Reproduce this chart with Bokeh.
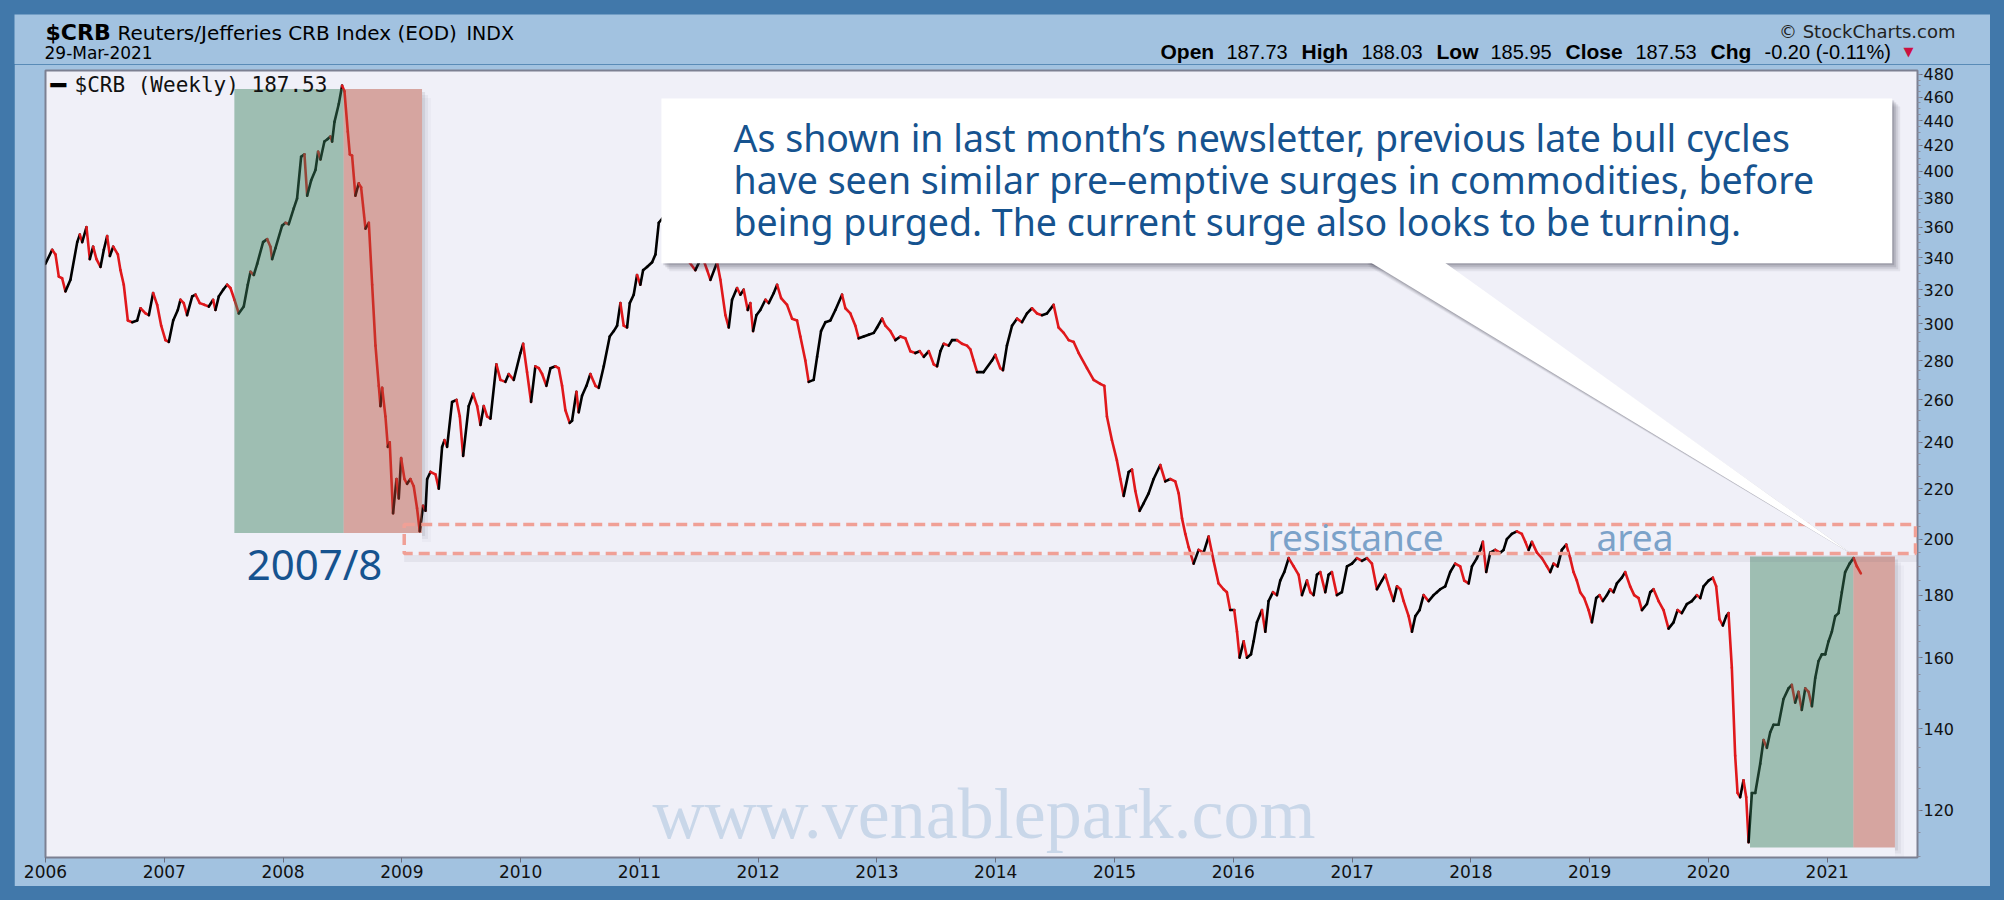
import math
from bokeh.plotting import figure
from bokeh.layouts import column
from bokeh.models import (Range1d, FixedTicker, NumeralTickFormatter, Label,
                          ColumnDataSource, GlobalInlineStyleSheet)
from bokeh.embed import file_html
from bokeh.resources import INLINE

# ---------------- data ----------------
dates = [
    2006.000, 2006.056, 2006.084, 2006.112, 2006.140, 2006.168, 2006.210, 2006.267, 2006.289, 2006.309,
    2006.345, 2006.373, 2006.401, 2006.429, 2006.463, 2006.491, 2006.519, 2006.542, 2006.570, 2006.609,
    2006.631, 2006.659, 2006.693, 2006.730, 2006.772, 2006.800, 2006.842, 2006.870, 2006.906, 2006.940,
    2006.974, 2007.010, 2007.038, 2007.075, 2007.114, 2007.136, 2007.164, 2007.192, 2007.235, 2007.263,
    2007.299, 2007.338, 2007.375, 2007.411, 2007.431, 2007.459, 2007.496, 2007.529, 2007.557, 2007.591,
    2007.627, 2007.669, 2007.703, 2007.726, 2007.754, 2007.782, 2007.832, 2007.866, 2007.894, 2007.908,
    2007.936, 2007.992, 2008.020, 2008.048, 2008.090, 2008.118, 2008.152, 2008.180, 2008.203, 2008.236,
    2008.273, 2008.295, 2008.315, 2008.348, 2008.376, 2008.399, 2008.413, 2008.433, 2008.469, 2008.497,
    2008.517, 2008.545, 2008.562, 2008.581, 2008.609, 2008.637, 2008.657, 2008.694, 2008.722, 2008.750,
    2008.778, 2008.806, 2008.820, 2008.834, 2008.862, 2008.882, 2008.898, 2008.926, 2008.955, 2008.974,
    2008.994, 2009.022, 2009.044, 2009.072, 2009.100, 2009.128, 2009.151, 2009.179, 2009.199, 2009.213,
    2009.241, 2009.283, 2009.311, 2009.339, 2009.359, 2009.381, 2009.423, 2009.460, 2009.488, 2009.516,
    2009.563, 2009.600, 2009.634, 2009.662, 2009.690, 2009.718, 2009.746, 2009.796, 2009.830, 2009.872,
    2009.900, 2009.942, 2009.998,
    2010.021, 2010.054, 2010.088, 2010.124, 2010.153, 2010.181, 2010.217, 2010.251, 2010.293, 2010.321,
    2010.349, 2010.377, 2010.413, 2010.433, 2010.470, 2010.489, 2010.517, 2010.554, 2010.587, 2010.630,
    2010.658, 2010.700, 2010.750, 2010.784, 2010.812, 2010.840, 2010.868, 2010.896, 2010.919, 2010.952,
    2010.980, 2011.008, 2011.031, 2011.064, 2011.107, 2011.135, 2011.163, 2011.233, 2011.317, 2011.401,
    2011.471, 2011.528, 2011.570, 2011.598, 2011.654, 2011.682, 2011.724, 2011.752, 2011.780, 2011.822,
    2011.850, 2011.878, 2011.912, 2011.934, 2011.957, 2011.985, 2012.018, 2012.061, 2012.089, 2012.131,
    2012.159, 2012.193, 2012.243, 2012.285, 2012.327, 2012.355, 2012.397, 2012.425, 2012.467, 2012.496,
    2012.529, 2012.566, 2012.608, 2012.650, 2012.706, 2012.734, 2012.776, 2012.818, 2012.846, 2012.888,
    2012.930, 2012.973, 2013.001, 2013.043, 2013.071, 2013.113, 2013.155, 2013.197, 2013.239, 2013.281,
    2013.323, 2013.360, 2013.394, 2013.436, 2013.478, 2013.506, 2013.534, 2013.562, 2013.604, 2013.632,
    2013.674, 2013.716, 2013.758, 2013.786, 2013.814, 2013.843, 2013.898,
    2013.968, 2013.996, 2014.038, 2014.061, 2014.094, 2014.137, 2014.179, 2014.221, 2014.263, 2014.305,
    2014.347, 2014.389, 2014.431, 2014.487, 2014.529, 2014.572, 2014.614, 2014.656, 2014.698, 2014.768,
    2014.824, 2014.880, 2014.914, 2014.936, 2014.978, 2015.020, 2015.049, 2015.077, 2015.119, 2015.147,
    2015.175, 2015.211, 2015.245, 2015.287, 2015.329, 2015.385, 2015.427, 2015.469, 2015.511, 2015.540,
    2015.568, 2015.596, 2015.624, 2015.666, 2015.708, 2015.750, 2015.792, 2015.834, 2015.876, 2015.918,
    2015.946, 2015.974, 2016.008, 2016.031, 2016.053, 2016.087, 2016.115, 2016.149, 2016.171, 2016.199,
    2016.241, 2016.269, 2016.297, 2016.334, 2016.367, 2016.395, 2016.429, 2016.466, 2016.508, 2016.550,
    2016.578, 2016.620, 2016.648, 2016.676, 2016.704, 2016.732, 2016.774, 2016.802, 2016.830, 2016.872,
    2016.914, 2016.957, 2016.999, 2017.041, 2017.083, 2017.125, 2017.167, 2017.209, 2017.251, 2017.279,
    2017.316, 2017.349, 2017.378, 2017.406, 2017.434, 2017.476, 2017.504, 2017.532, 2017.568, 2017.602,
    2017.644, 2017.686, 2017.714, 2017.742,
    2017.784, 2017.826, 2017.868, 2017.910, 2017.944, 2017.981, 2018.009, 2018.051, 2018.079, 2018.101,
    2018.129, 2018.163, 2018.205, 2018.247, 2018.275, 2018.303, 2018.345, 2018.387, 2018.429, 2018.458,
    2018.486, 2018.514, 2018.556, 2018.598, 2018.640, 2018.668, 2018.696, 2018.730, 2018.766, 2018.803,
    2018.836, 2018.864, 2018.892, 2018.920, 2018.954, 2018.991, 2019.019, 2019.055, 2019.083, 2019.111,
    2019.145, 2019.173, 2019.201, 2019.229, 2019.271, 2019.299, 2019.341, 2019.375, 2019.412, 2019.440,
    2019.482, 2019.510, 2019.538, 2019.580, 2019.622, 2019.664, 2019.706, 2019.740, 2019.776, 2019.818,
    2019.860, 2019.903, 2019.931, 2019.959, 2020.001, 2020.037, 2020.065, 2020.093, 2020.121, 2020.150,
    2020.169, 2020.197, 2020.225, 2020.245, 2020.267, 2020.295, 2020.318, 2020.338, 2020.366, 2020.394,
    2020.436, 2020.464, 2020.492, 2020.520, 2020.548, 2020.590, 2020.632, 2020.674, 2020.702, 2020.730,
    2020.758, 2020.786, 2020.815, 2020.843, 2020.871, 2020.899, 2020.927, 2020.955, 2020.983, 2021.011,
    2021.039, 2021.067, 2021.095, 2021.123, 2021.151, 2021.188, 2021.222, 2021.250, 2021.283,
]
values = [
    336, 345, 342, 328, 327, 319, 326, 350, 355, 350,
    360, 339, 347, 339, 334, 345, 354, 341, 347, 342,
    332, 323, 302, 301, 302, 309, 306, 305, 318, 311,
    299, 291, 290, 302, 308, 314, 312, 305, 316, 317,
    312, 311, 310, 314, 308, 316, 320, 323, 321, 314,
    306, 310, 323, 331, 329, 336, 350, 352, 347, 339,
    346, 361, 363, 362, 373, 380, 411, 413, 382, 393,
    401, 415, 409, 423, 425, 427, 423, 439, 454, 470,
    465, 431, 413, 412, 382, 391, 388, 359, 363, 323,
    288, 267, 257, 266, 252, 238, 240, 210, 224, 216,
    233, 224, 222, 224, 221, 212, 203, 213, 211, 224,
    227, 226, 220, 238, 241, 238, 259, 260, 252, 234,
    257, 263, 257, 248, 257, 252, 251, 278, 270, 269,
    273, 270, 284,
    289, 274, 259, 277, 276, 273, 267, 276, 277, 276,
    267, 255, 249, 250, 264, 254, 262, 267, 273, 267,
    266, 277, 293, 296, 299, 312, 299, 298, 312, 317,
    329, 323, 332, 334, 337, 342, 363, 370, 355, 339,
    332, 341, 332, 326, 337, 326, 305, 298, 314, 321,
    317, 320, 308, 312, 296, 305, 308, 314, 312, 318,
    323, 315, 311, 303, 302, 293, 280, 269, 270, 282,
    296, 301, 302, 308, 317, 309, 306, 299, 292, 293,
    294, 295, 298, 303, 299, 296, 291, 293, 292, 285,
    284, 285, 282, 285, 278, 277, 285, 289, 288, 291,
    291, 289, 288, 286, 280, 274, 274,
    280, 283, 276, 275, 288, 299, 303, 301, 306, 309,
    306, 305, 306, 311, 298, 295, 291, 290, 284, 276,
    270, 268, 267, 252, 241, 232, 224, 217, 227, 228,
    219, 211, 214, 218, 224, 230, 223, 224, 223, 218,
    208, 202, 197, 191, 196, 195, 201, 192, 184, 182,
    181, 175, 175, 168, 160, 165, 160, 161, 165, 171,
    175, 168, 178, 181, 180, 185, 188, 193, 190, 187,
    180, 185, 181, 180, 187, 188, 181, 187, 188, 180,
    181, 190, 191, 193, 192, 193, 191, 182, 185, 187,
    182, 178, 183, 182, 178, 173, 168, 173, 175, 180,
    178, 180, 181, 182,
    183, 188, 191, 190, 185, 184, 190, 193, 196, 199,
    188, 195, 196, 195, 196, 200, 202, 203, 202, 199,
    196, 199, 195, 193, 190, 188, 191, 190, 196, 198,
    193, 188, 185, 181, 179, 175, 171, 179, 180, 178,
    180, 182, 181, 184, 186, 188, 183, 180, 179, 175,
    177, 181, 182, 178, 175, 169, 171, 175, 174, 177,
    178, 180, 179, 183, 185, 186, 183, 172, 170, 173,
    174, 157, 133, 124, 123, 127, 123, 113, 124, 124,
    131, 137, 135, 139, 141, 141, 148, 151, 152, 147,
    150, 145, 151, 150, 146, 154, 159, 161, 161, 165,
    168, 173, 174, 181, 188, 191, 193, 190, 187.53,
]

year_ticks = list(range(2006, 2022))
price_ticks = [120, 140, 160, 180, 200, 220, 240, 260, 280, 300,
               320, 340, 360, 380, 400, 420, 440, 460, 480]
price_minor_ticks = list(range(110, 485, 5))

symbol = "$CRB"
index_name = "Reuters/Jefferies CRB Index (EOD)"
exchange = "INDX"
as_of = "29-Mar-2021"
copyright_text = "\u00a9 StockCharts.com"
stat_names = ["Open", "High", "Low", "Close", "Chg"]
stat_values = ["187.73", "188.03", "185.95", "187.53", "-0.20 (-0.11%)"]
series_name = "$CRB (Weekly)"

# highlighted late-cycle surges (green) and purges (red)
cycle_start = [2007.59, 2020.35]
cycle_turn = [2008.51, 2021.22]
cycle_end = [2009.17, 2021.57]
cycle_low = [202.3, 111.9]
cycle_high = [467.0, 193.6]

resistance_start = 2009.02
resistance_low = 194.7
resistance_high = 205.6

callout_lines = [
    "As shown in last month\u2019s newsletter, previous late bull cycles",
    "have seen similar pre\u2013emptive surges in commodities, before",
    "being purged. The current surge also looks to be turning.",
]
era_label = "2007/8"
resistance_words = ["resistance", "area"]
watermark = "www.venablepark.com"

PANEL = "#a2c2e0"
TEXT_BLUE = "#16538f"

# ---------------- header strip ----------------
hdr = figure(width=1976, height=50, y_range=Range1d(64, 14),
             x_axis_type=None, y_axis_type=None, output_backend="svg", toolbar_location=None,
             min_border_top=0, min_border_bottom=0,
             background_fill_color=PANEL, border_fill_color=PANEL, outline_line_color=None)
hdr.grid.visible = False

p = figure(width=1976, height=822, x_range=Range1d(2006.0, 2021.76), y_range=Range1d(109.8, 483.6),
           y_axis_type="log", y_axis_location="right",
           output_backend="svg", toolbar_location=None,
           min_border_left=31, min_border_right=73, min_border_top=6, min_border_bottom=29,
           background_fill_color="#f0f0f8", border_fill_color=PANEL,
           outline_line_color="#7c8092", outline_line_width=2)
p.grid.visible = False

free_frame = "frame_align" in hdr.properties()
if free_frame:
    # header frame spans the whole strip; x data units are page pixels
    hdr.frame_align = False
    p.frame_align = False
    hdr.min_border_left = 0
    hdr.min_border_right = 0
    hdr.x_range = Range1d(14, 1990)
else:
    hdr.min_border_left = 31
    hdr.min_border_right = 73
    hdr.x_range = Range1d(45, 1917)


def hlabel(text, x, y, size, color="#000000", font="DejaVu Sans", style="normal", align="left"):
    hdr.add_layout(Label(x=x, y=y, text=text, text_font=font, text_font_size=f"{size}px",
                         text_font_style=style, text_color=color, text_align=align,
                         text_baseline="middle"))


hlabel(symbol, 45, 32, 22, style="bold")
hlabel(index_name, 117, 32, 20)
hlabel(exchange, 466, 32, 19)
hlabel(as_of, 44 if free_frame else 45, 52, 17)
hlabel(copyright_text, 1955 if free_frame else 1916, 31, 18, color="#222222", align="right")
stat_name_x = [1160, 1301, 1436, 1565, 1710]
stat_value_x = [1226, 1361, 1490, 1635, 1764]
for nm, val, xn, xv in zip(stat_names, stat_values, stat_name_x, stat_value_x):
    hlabel(nm, xn, 51, 21, font="Liberation Sans", style="bold")
    hlabel(val, xv, 51, 20, font="Liberation Sans")
hlabel("\u25bc", 1903, 51, 13, color="#cc1040")

# ---------------- main chart axes ----------------
p.xaxis.ticker = FixedTicker(ticks=year_ticks, minor_ticks=[])
p.xaxis.formatter = NumeralTickFormatter(format="0")
p.yaxis.ticker = FixedTicker(ticks=price_ticks, minor_ticks=price_minor_ticks)
p.yaxis.formatter = NumeralTickFormatter(format="0")
for ax in (p.xaxis[0], p.yaxis[0]):
    ax.axis_line_color = "#7c8092"
    ax.major_tick_line_color = "#6a6e80"
    ax.minor_tick_line_color = "#8a8e9e"
    ax.major_tick_in = 0
    ax.major_tick_out = 5
    ax.minor_tick_in = 0
    ax.minor_tick_out = 3
    ax.major_label_text_font = "DejaVu Sans"
    ax.major_label_text_color = "#111111"
p.xaxis.major_label_text_font_size = "17px"
p.xaxis.major_label_standoff = 2
p.yaxis.major_label_text_font_size = "16px"
p.yaxis.major_label_standoff = 1

X1 = p.x_range.end

# price line, coloured by weekly direction
seg_color = ["#e0181c" if b < a else "#000000" for a, b in zip(values[:-1], values[1:])]
src = ColumnDataSource(dict(x0=dates[:-1], x1=dates[1:], y0=values[:-1], y1=values[1:], c=seg_color))
p.segment(x0="x0", y0="y0", x1="x1", y1="y1", line_color="c", line_width=2.6,
          line_cap="round", source=src)

# cycle bands
PXX = 1 / 118.8      # one screen pixel in years
PXY = 1 / 531.0      # one screen pixel in log units
for s, t, e, lo, hi in zip(cycle_start, cycle_turn, cycle_end, cycle_low, cycle_high):
    for d, a in ((3, 0.10), (6, 0.06), (9, 0.03)):
        p.quad(left=[e], right=[e + d * PXX], bottom=[lo * math.exp(-d * PXY)], top=[hi * math.exp(-d * PXY)],
               fill_color="#404050", fill_alpha=a, line_color=None)
    p.quad(left=[s], right=[t], bottom=[lo], top=[hi], fill_color="#3a815d", fill_alpha=0.45, line_color=None)
    p.quad(left=[t], right=[e], bottom=[lo], top=[hi], fill_color="#b64935", fill_alpha=0.45, line_color=None)

# resistance area (dashed box with soft shadow)
p.segment(x0=[resistance_start], x1=[X1], y0=[resistance_low * math.exp(-5 * PXY)],
          y1=[resistance_low * math.exp(-5 * PXY)], line_color="#505060", line_alpha=0.08, line_width=7)
p.quad(left=[resistance_start], right=[X1 - 2 * PXX], bottom=[resistance_low], top=[resistance_high],
       fill_color=None, line_color="#f0a096", line_width=3.5, line_dash="11 6")

# callout box with pointer
box_l, box_r, box_b, box_t = 2011.185, 2021.547, 336.3, 458.8
ptr_x = [2017.094, 2017.726, 2021.216]
ptr_y = [box_b * 1.01, box_b * 1.01, 194.2]
for d, a in ((8, 0.07), (6, 0.10), (4, 0.14), (2, 0.18)):
    f = math.exp(-d * PXY)
    p.quad(left=[box_l + d * PXX], right=[box_r + d * PXX], bottom=[box_b * f], top=[box_t * f],
           fill_color="#303040", fill_alpha=a, line_color=None)
    p.patch(x=[v + d * PXX * 0.6 for v in ptr_x[:2]] + [ptr_x[2]],
            y=[v * f for v in ptr_y[:2]] + [ptr_y[2]],
            fill_color="#303040", fill_alpha=a * 0.9, line_color=None)
p.quad(left=[box_l], right=[box_r], bottom=[box_b], top=[box_t], fill_color="#ffffff", line_color=None)
p.patch(x=ptr_x, y=ptr_y, fill_color="#ffffff", line_color=None)


def add_label(text, x, y, size, color="#000000", font="DejaVu Sans", style="normal",
              align="left", alpha=1.0):
    # screen units: measured from the frame's bottom-left corner, y upward
    p.add_layout(Label(x=x, y=y, x_units="screen", y_units="screen", text=text,
                       text_font=font, text_font_size=f"{size}px", text_font_style=style,
                       text_color=color, text_align=align, text_baseline="middle",
                       text_alpha=alpha))


# legend
add_label("\u2501", 5, 773, 26, font="DejaVu Sans Mono")
add_label(f"{series_name} {values[-1]:.2f}", 29, 773, 21, font="DejaVu Sans Mono", color="#111111")

# callout text
for i, line in enumerate(callout_lines):
    add_label(line, 688, 720 - 42 * i, 37.5, color=TEXT_BLUE, font="Noto Sans")

add_label(era_label, 269, 294, 42, color=TEXT_BLUE, font="Noto Sans", align="center")
add_label(resistance_words[0], 1222, 321, 37, color="#7ba2c9", font="Noto Sans")
add_label(resistance_words[1], 1551, 321, 37, color="#7ba2c9", font="Noto Sans")
add_label(watermark, 607, 44, 72, color="#c9d7e9", font="Liberation Serif")

layout = column(hdr, p, spacing=0)
layout.stylesheets = [GlobalInlineStyleSheet(
    css="body{margin:14px;background-color:#4178aa;overflow:hidden;}")]

open("out.html", "w").write(file_html(layout, INLINE))
